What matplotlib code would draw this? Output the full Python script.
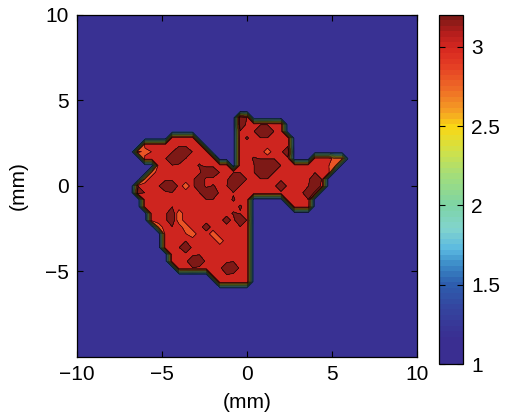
import numpy as np
import matplotlib
matplotlib.use("Agg")
import matplotlib.pyplot as plt
from matplotlib.colors import LinearSegmentedColormap, Normalize
from matplotlib.cm import ScalarMappable

# 0.4 mm sampling grid over the 20 mm x 20 mm field of view
x_mm = np.linspace(-10, 10, 51)
y_mm = np.linspace(-10, 10, 51)
step_mm = 0.4

# Map of the inclusion: rows run from y = 4.8 mm down to y = -6.4 mm,
# columns from x = -7.2 mm to x = 6.4 mm (one symbol per grid node)
region_x0 = -7.2
region_y0 = 4.8
region_cols = 35
region_rows = [
    "...................................",
    "...................................",
    ".................De................",
    ".................Dooeeoo...........",
    ".................eoeDDeo...........",
    ".......oooo......oxoeeooo..........",
    "...ooooooooo.....oooooooo..........",
    "..olmooeDDeoo....oooolooD..........",
    "...oooeDDeoooo...ooxeeeoo...oooll..",
    ".....ooeoooxoooo.ooeDDDeooooooml...",
    "....loooooooDDeoeeoeDDeoooomeoo....",
    "...loooooooDooooDDeoeeooooooDe.....",
    "..eooeDDoloDoxoeDeoooooDoooeDo.....",
    "..DeoooeoooeDDoeeoooooooeooDo......",
    "...oooooooooeeooxoo.....oooe.......",
    "...ooooeoooooooooxo......ooo.......",
    "....oooDloooooooxeo................",
    "....oooDloooooodoDe................",
    ".....loeoloodooooeo................",
    "......ooomloolooooo................",
    "......oooeooooloooo................",
    "......ooeDooooomooo................",
    ".......ooooeooooooo................",
    ".......oooDDooooeoo................",
    "........ooeooooDDoo................",
    ".............ooeooo................",
    "..............ooooo................",
    "...................................",
    "...................................",
]

# Field value attached to each map symbol
background_value = 1.0
symbol_values = {
    ".": 1.0,
    "o": 2.95,
    "e": 2.99,
    "x": 3.015,
    "d": 3.07,
    "D": 3.19,
    "m": 2.81,
    "l": 2.62,
}

# Contour levels and tick positions
levels = [1.0, 1.2, 1.4, 1.6, 1.8, 2.0, 2.2, 2.4, 2.6, 2.8, 3.0, 3.2]
cbar_ticks = [1, 1.5, 2, 2.5, 3]
cbar_labels = ["1", "1.5", "2", "2.5", "3"]
x_ticks = [-10, -5, 0, 5, 10]
y_ticks = [-5, 0, 5, 10]

# Jet-like colour scale (value, RGB)
scale_points = [
    (1.00, (58, 46, 145)),
    (1.15, (58, 46, 145)),
    (1.35, (52, 70, 160)),
    (1.50, (45, 95, 175)),
    (1.62, (60, 140, 200)),
    (1.72, (90, 185, 225)),
    (1.85, (130, 212, 205)),
    (2.00, (125, 212, 165)),
    (2.20, (165, 222, 120)),
    (2.35, (210, 225, 70)),
    (2.50, (250, 215, 20)),
    (2.60, (245, 160, 35)),
    (2.75, (238, 105, 38)),
    (2.90, (228, 60, 36)),
    (3.00, (215, 40, 32)),
    (3.10, (180, 30, 28)),
    (3.20, (125, 25, 22)),
]
vmin, vmax = 1.0, 3.2

# ---- build the field ----
Z = np.full((y_mm.size, x_mm.size), background_value)
for i, row in enumerate(region_rows):
    row = row.ljust(region_cols, ".")[:region_cols]
    yv = region_y0 - i * step_mm
    yi = int(round((yv - y_mm[0]) / step_mm))
    for j, ch in enumerate(row):
        xv = region_x0 + j * step_mm
        xi = int(round((xv - x_mm[0]) / step_mm))
        Z[yi, xi] = symbol_values.get(ch, background_value)
X, Y = np.meshgrid(x_mm, y_mm)

cmap = LinearSegmentedColormap.from_list(
    "jetlike",
    [((v - vmin) / (vmax - vmin), tuple(c / 255 for c in rgb)) for v, rgb in scale_points],
    N=64,
)
norm = Normalize(vmin=vmin, vmax=vmax)
# each band takes the colour of its upper bound
band_colors = [cmap(norm(v)) for v in levels[1:]]

plt.rcParams["font.family"] = ["Liberation Sans", "DejaVu Sans"]
plt.rcParams["font.size"] = 15

fig = plt.figure(figsize=(5.05, 4.13), dpi=100)
ax = fig.add_axes([0.1525, 0.1356, 0.6732, 0.8281])
ax.contourf(X, Y, Z, levels=levels, colors=band_colors)
ax.contour(X, Y, Z, levels=levels[1:], colors="k", linewidths=0.4)

ax.set_xlim(-10, 10)
ax.set_ylim(-10, 10)
ax.set_xticks(x_ticks)
ax.set_yticks(y_ticks)
ax.tick_params(direction="in", top=True, right=True, length=4, width=0.8, pad=6)
for s in ax.spines.values():
    s.set_linewidth(0.9)
ax.set_xlabel("(mm)", labelpad=6)
ax.set_ylabel("(mm)", labelpad=12)

cax = fig.add_axes([0.8693, 0.1186, 0.0475, 0.845])
cb = fig.colorbar(ScalarMappable(norm=norm, cmap=cmap), cax=cax, ticks=cbar_ticks)
cb.ax.set_yticklabels(cbar_labels)
cb.ax.tick_params(direction="in", left=True, right=True, length=4, width=0.8, pad=6)
cb.outline.set_linewidth(0.9)

fig.savefig("out.png", dpi=100)
